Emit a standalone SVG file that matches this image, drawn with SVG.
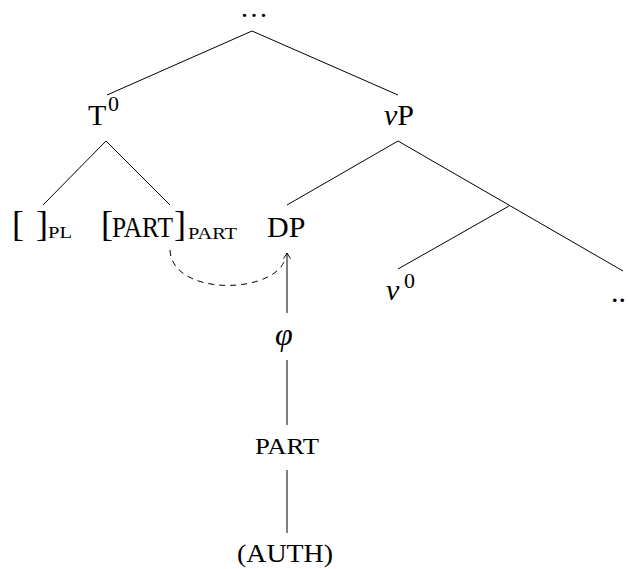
<svg xmlns="http://www.w3.org/2000/svg" width="629" height="569" viewBox="0 0 629 569">
<style>
text{font-family:"Liberation Serif","Times New Roman",serif;fill:#000}
.big{font-size:30px}
.sup{font-size:22px}
.br{font-size:36px}
.sub{font-size:17px}
.it{font-style:italic}
.edge{stroke:#000;stroke-width:1;fill:none}
.dash{stroke:#000;stroke-width:1;fill:none;stroke-dasharray:6 5}
</style>
<defs>
<marker id="arr" markerUnits="userSpaceOnUse" markerWidth="12" markerHeight="12" viewBox="-7 -6 9 12" refX="0" refY="0" orient="auto">
<path d="M-5.5,-3.5 Q-1.5,-0.8 0,0 Q-1.5,0.8 -5.5,3.5" stroke="#000" stroke-width="1" fill="none"/>
</marker>
</defs>
<g id="connectors">
<line class="edge" x1="252" y1="31" x2="107" y2="95"/>
<line class="edge" x1="252" y1="31" x2="398" y2="95"/>
<line class="edge" x1="106" y1="141" x2="43" y2="205"/>
<line class="edge" x1="106" y1="141" x2="170" y2="205"/>
<line class="edge" x1="398" y1="141" x2="287" y2="205"/>
<line class="edge" x1="398" y1="141" x2="623" y2="271"/>
<line class="edge" x1="509" y1="206" x2="398" y2="269"/>
<line class="edge" x1="287" y1="313" x2="287" y2="253" marker-end="url(#arr)"/>
<line class="edge" x1="287" y1="360" x2="287" y2="425"/>
<line class="edge" x1="287" y1="470" x2="287" y2="533"/>
<path class="dash" d="M170,250 C172,295 268,295 284,262"/>
</g>
<g id="root"><text x="241" y="17" font-size="28" letter-spacing="2.5">...</text></g>
<g id="T0"><text class="big" x="88" y="125">T</text><text class="sup" x="108" y="111">0</text></g>
<g id="vP"><text class="big" x="384" y="125"><tspan class="it">v</tspan>P</text></g>
<g id="PL"><text class="br" x="12" y="236">[</text><text class="br" x="36" y="236">]</text><text class="sub" x="48" y="238" textLength="24" lengthAdjust="spacingAndGlyphs">PL</text></g>
<g id="PARTfeat"><text class="br" x="101" y="236">[</text><text x="112" y="237" font-size="29" textLength="61" lengthAdjust="spacingAndGlyphs">PART</text><text class="br" x="174" y="236">]</text><text class="sub" x="188" y="239" textLength="49" lengthAdjust="spacingAndGlyphs">PART</text></g>
<g id="DP"><text class="big" x="267" y="237">DP</text></g>
<g id="v0"><text class="big it" x="386" y="300">v</text><text class="sup" x="404" y="288">0</text></g>
<g id="dots"><text class="big" x="611" y="302">..</text></g>
<g id="phi"><text class="it" x="275" y="345" font-size="32">φ</text></g>
<g id="PART"><text x="255" y="454" font-size="24" textLength="64" lengthAdjust="spacingAndGlyphs">PART</text></g>
<g id="AUTH"><text x="237" y="562" font-size="25" textLength="96" lengthAdjust="spacingAndGlyphs">(AUTH)</text></g>
</svg>
